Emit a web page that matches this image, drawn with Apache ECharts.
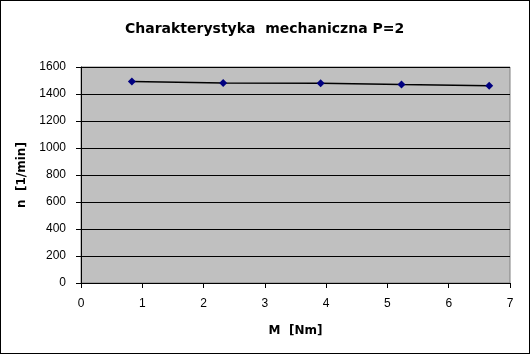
<!DOCTYPE html>
<html>
<head>
<meta charset="utf-8">
<script src="https://cdn.jsdelivr.net/npm/echarts@6/dist/echarts.min.js"></script>
<style>
html,body{margin:0;padding:0;background:#fff;}
#chart{width:530px;height:354px;box-sizing:border-box;border:1px solid #000;}
</style>
</head>
<body>
<div id="chart"></div>
<script>
// moment M [Nm] i predkosc n [1/min]
const momentM = [0.83, 2.32, 3.91, 5.23, 6.66]
const speedN = [1493, 1482, 1479, 1470, 1461]
const xTicks = [0, 1, 2, 3, 4, 5, 6, 7]
const yTicks = [0, 200, 400, 600, 800, 1000, 1200, 1400, 1600]

const chart = echarts.init(document.getElementById('chart'))
const points = momentM.map((m, i) => [m, speedN[i]])
const font = 'Liberation Sans, Arial, sans-serif'
const wideFont = 'DejaVu Sans, sans-serif'

chart.setOption({
    animation: false,
    title: {
        text: 'Charakterystyka  mechaniczna P=2',
        left: 119,
        top: 16,
        textStyle: { fontFamily: wideFont, fontSize: 14, fontWeight: 'bold', color: '#000' }
    },
    grid: { left: 80, right: 19, top: 66, bottom: 70, show: true, backgroundColor: '#c0c0c0', borderColor: '#808080', borderWidth: 1 },
    xAxis: {
        type: 'value',
        min: xTicks[0],
        max: xTicks[xTicks.length - 1],
        interval: 1,
        name: 'M  [Nm]',
        nameLocation: 'middle',
        nameGap: 42,
        nameTextStyle: { fontFamily: wideFont, fontSize: 12, fontWeight: 'bold', color: '#000' },
        axisLine: { onZero: false, lineStyle: { color: '#000', width: 1 } },
        axisTick: { show: true, inside: false, length: 5, lineStyle: { color: '#000' } },
        axisLabel: { fontFamily: font, fontSize: 12, color: '#000', margin: 15 },
        splitLine: { show: false }
    },
    yAxis: {
        type: 'value',
        min: yTicks[0],
        max: yTicks[yTicks.length - 1],
        interval: 200,
        name: 'n  [1/min]',
        nameLocation: 'middle',
        nameGap: 53,
        nameTextStyle: { fontFamily: wideFont, fontSize: 12, fontWeight: 'bold', color: '#000' },
        axisLine: { show: true, lineStyle: { color: '#000', width: 1 } },
        axisTick: { show: true, length: 5, lineStyle: { color: '#000' } },
        axisLabel: { fontFamily: font, fontSize: 12, color: '#000', margin: 15, formatter: v => String(v) },
        splitLine: { show: true, lineStyle: { color: '#000', width: 1 } }
    },
    series: [
        {
            type: 'line',
            data: points,
            symbol: 'diamond',
            symbolSize: 8,
            itemStyle: { color: '#000080' },
            lineStyle: { color: '#000', width: 1.5 }
        }
    ]
})
</script>
</body>
</html>
